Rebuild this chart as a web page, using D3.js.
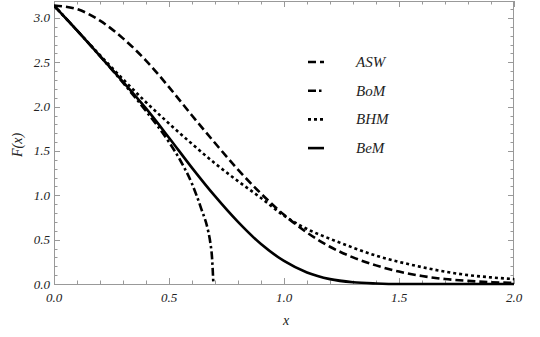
<!DOCTYPE html>
<html>
<head>
<meta charset="utf-8">
<script src="https://cdn.jsdelivr.net/npm/d3@7"></script>
<style>
  html, body { margin: 0; padding: 0; background: #fff; }
  svg text { font-family: "Liberation Serif", "Times New Roman", Times, serif; font-style: italic; fill: #222; }
</style>
</head>
<body>
<div id="chart"></div>
<script>
"use strict";

// sample points
var xsMain = [0, 0.1, 0.2, 0.3, 0.4, 0.5, 0.6, 0.7, 0.8, 0.9, 1.0, 1.1, 1.2, 1.3, 1.4, 1.5, 1.6, 1.7, 1.8, 1.9, 2.0];
var aswValues = [3.14, 3.10, 2.97, 2.77, 2.52, 2.22, 1.90, 1.59, 1.29, 1.02, 0.78, 0.58, 0.42, 0.30, 0.21, 0.14, 0.09, 0.056, 0.035, 0.02, 0.012];
var bhmValues = [3.14, 2.86, 2.58, 2.31, 2.05, 1.81, 1.58, 1.36, 1.16, 0.97, 0.77, 0.62, 0.51, 0.41, 0.32, 0.25, 0.19, 0.14, 0.10, 0.075, 0.055];
var bemValues = [3.14, 2.86, 2.57, 2.28, 1.98, 1.65, 1.31, 0.99, 0.70, 0.45, 0.26, 0.13, 0.055, 0.02, 0.006, 0.0, 0.0, 0.0, 0.0, 0.0, 0.0];
var xsBoM = [0, 0.1, 0.2, 0.3, 0.4, 0.5, 0.55, 0.6, 0.64, 0.67, 0.68, 0.687, 0.693];
var bomValues = [3.14, 2.86, 2.57, 2.27, 1.95, 1.60, 1.39, 1.13, 0.85, 0.60, 0.46, 0.30, 0.0];

var legendNames = ["ASW", "BoM", "BHM", "BeM"];
var legendDash = ["8,4", "8,3,2.5,3", "3,3", null];
var xTicks = [0.0, 0.5, 1.0, 1.5, 2.0];
var yTicks = [0.0, 0.5, 1.0, 1.5, 2.0, 2.5, 3.0];

(function () {
    var W = 540, H = 337;
    var pLeft = 54, pRight = 514, pTop = 1, pBottom = 284;

    var svg = d3.select("#chart").append("svg").attr("width", W).attr("height", H);

    var x = d3.scaleLinear().domain([0, 2]).range([pLeft, pRight]);
    var y = d3.scaleLinear().domain([0, 3.1916]).range([pBottom, pTop]);

    var frameColor = "#999";

    // minor / major ticks on all four sides
    var minorX = d3.range(0, 2.0001, 0.1);
    var minorY = d3.range(0, 3.19, 0.1);
    var isMajor = function (v) { return Math.abs(v * 2 - Math.round(v * 2)) < 1e-6; };

    var ticks = svg.append("g").attr("stroke", frameColor).attr("stroke-width", 1);
    minorX.forEach(function (v) {
        var len = isMajor(v) ? 6 : 3.5;
        var px = Math.round(x(v)) + 0.5;
        ticks.append("line").attr("x1", px).attr("x2", px).attr("y1", pBottom).attr("y2", pBottom - len);
        ticks.append("line").attr("x1", px).attr("x2", px).attr("y1", pTop).attr("y2", pTop + len);
    });
    minorY.forEach(function (v) {
        var len = isMajor(v) ? 6 : 3.5;
        var py = Math.round(y(v)) + 0.5;
        ticks.append("line").attr("x1", pLeft).attr("x2", pLeft + len).attr("y1", py).attr("y2", py);
        ticks.append("line").attr("x1", pRight).attr("x2", pRight - len).attr("y1", py).attr("y2", py);
    });

    svg.append("rect")
        .attr("x", pLeft + 0.5).attr("y", pTop + 0.5)
        .attr("width", pRight - pLeft - 1).attr("height", pBottom - pTop)
        .attr("fill", "none").attr("stroke", frameColor).attr("stroke-width", 1);

    // tick labels
    svg.append("g").selectAll("text").data(xTicks).enter().append("text")
        .attr("x", function (d) { return x(d); })
        .attr("y", pBottom + 18)
        .attr("text-anchor", "middle")
        .attr("font-size", 13)
        .text(function (d) { return d3.format(".1f")(d); });

    svg.append("g").selectAll("text").data(yTicks).enter().append("text")
        .attr("x", pLeft - 4)
        .attr("y", function (d) { return y(d) + 4.5; })
        .attr("text-anchor", "end")
        .attr("font-size", 13)
        .text(function (d) { return d3.format(".1f")(d); });

    // axis titles
    svg.append("text").attr("x", 286).attr("y", 325).attr("text-anchor", "middle")
        .attr("font-size", 14).text("x");
    svg.append("text").attr("transform", "translate(22,145) rotate(-90)")
        .attr("text-anchor", "middle").attr("font-size", 14).text("F(x)");

    // curves
    svg.append("clipPath").attr("id", "plotclip").append("rect")
        .attr("x", pLeft).attr("y", pTop).attr("width", pRight - pLeft).attr("height", pBottom - pTop + 2);

    var line = d3.line()
        .x(function (d) { return x(d[0]); })
        .y(function (d) { return y(d[1]); })
        .curve(d3.curveMonotoneX);

    var series = [
        { xs: xsMain, ys: aswValues, dash: legendDash[0] },
        { xs: xsBoM, ys: bomValues, dash: legendDash[1] },
        { xs: xsMain, ys: bhmValues, dash: legendDash[2] },
        { xs: xsMain, ys: bemValues, dash: legendDash[3] }
    ];

    var plot = svg.append("g").attr("clip-path", "url(#plotclip)");
    series.forEach(function (s) {
        plot.append("path")
            .attr("d", line(s.xs.map(function (v, i) { return [v, s.ys[i]]; })))
            .attr("fill", "none")
            .attr("stroke", "#000")
            .attr("stroke-width", 2.6)
            .attr("stroke-dasharray", s.dash);
    });

    // legend
    var legend = svg.append("g");
    legendNames.forEach(function (name, i) {
        var ly = 62 + i * 28.7;
        legend.append("line")
            .attr("x1", 308).attr("x2", 324).attr("y1", ly).attr("y2", ly)
            .attr("stroke", "#000").attr("stroke-width", 2.6)
            .attr("stroke-dasharray", legendDash[i]);
        legend.append("text")
            .attr("x", 356).attr("y", ly + 5)
            .attr("font-size", 15)
            .text(name);
    });
})();
</script>
</body>
</html>
